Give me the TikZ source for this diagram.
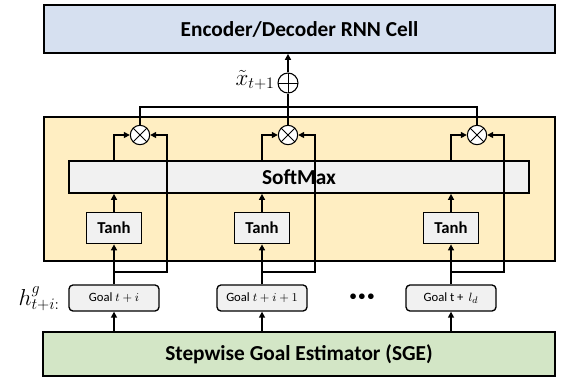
\documentclass[tikz,border=0pt]{standalone}
\usepackage{fontspec}
\setmainfont{Carlito}
\usetikzlibrary{arrows.meta,calc}

\definecolor{encblue}{HTML}{D6E0F0}
\definecolor{attnyellow}{HTML}{FFEEC2}
\definecolor{sgegreen}{HTML}{D3E6C6}
\definecolor{boxgrey}{HTML}{F1F1F1}

\tikzset{
  box/.style={draw=black, line width=1.3pt, rectangle, inner sep=0pt},
  headbox/.style={box, font=\fontsize{16}{19}\selectfont\bfseries},
  tanhbox/.style={box, fill=boxgrey, minimum width=41.25pt, minimum height=23.25pt,
                  font=\fontsize{12.5}{15}\selectfont\bfseries},
  goalbox/.style={box, line width=1pt, rounded corners=3pt, fill=boxgrey,
                  minimum width=67.5pt, minimum height=19.5pt,
                  font=\fontsize{9.5}{11}\selectfont},
  opcircle/.style={circle, draw=black, line width=0.8pt, fill=white, inner sep=0pt,
                   minimum size=14.5pt},
  otimesop/.style={opcircle, path picture={
      \draw[line width=0.7pt] (path picture bounding box.north west) -- (path picture bounding box.south east)
                              (path picture bounding box.north east) -- (path picture bounding box.south west);}},
  oplusop/.style={opcircle, path picture={
      \draw[line width=0.7pt] (path picture bounding box.north) -- (path picture bounding box.south)
                              (path picture bounding box.west) -- (path picture bounding box.east);}},
  mathlabel/.style={anchor=east, inner sep=0pt, font=\fontsize{17}{20}\selectfont},
  wire/.style={line width=1.6pt},
  arr/.style={wire, -{Triangle[length=4.5pt,width=4.5pt]}},
}

\begin{document}
\begin{tikzpicture}[x=0.75pt, y=-0.75pt]
  \useasboundingbox (0,0) rectangle (563,379);

  % main blocks
  \node[headbox, fill=encblue, minimum width=383.25pt, minimum height=36pt] (enc) at (299.5,29) {Encoder/Decoder RNN Cell};
  \node[box, fill=attnyellow, minimum width=383.25pt, minimum height=108pt] (attn) at (299.5,189) {};
  \node[headbox, fill=boxgrey, minimum width=345pt, minimum height=24pt] (sm) at (299,177) {SoftMax};
  \node[headbox, fill=sgegreen, minimum width=384pt, minimum height=33pt] (sge) at (299,354) {Stepwise Goal Estimator (SGE)};

  % per-goal columns
  \node[tanhbox] (tanh1) at (114,228) {Tanh};
  \node[tanhbox] (tanh2) at (262,228) {Tanh};
  \node[tanhbox] (tanh3) at (451,228) {Tanh};

  \node[goalbox] (goal1) at (114,298) {Goal $t+i$};
  \node[goalbox] (goal2) at (262,298) {Goal $t+i+1$};
  \node[goalbox] (goal3) at (451,298) {Goal t + \,$l_d$};

  \node[font=\fontsize{10}{12}\selectfont\bfseries] (dots) at (362,297) {•\,•\,•};
  \node[mathlabel] (hlab) at (60,299) {$h^{g}_{t+i:}$};

  % multiplication and sum nodes
  \node[otimesop] (ot1) at (140,135) {};
  \node[otimesop] (ot2) at (288,135) {};
  \node[otimesop] (ot3) at (477,135) {};
  \node[oplusop, minimum size=15pt] (op) at (288,83) {};
  \node[mathlabel] (xlab) at (275,80) {$\tilde{x}_{t+1}$};

  % branch points and side rails
  \coordinate (j1) at (114,272);  \coordinate (r1) at (167,272);
  \coordinate (j2) at (262,272);  \coordinate (r2) at (315,272);
  \coordinate (j3) at (451,272);  \coordinate (r3) at (504,272);
  \coordinate (bus) at (288,107);

  \foreach \k in {1,2,3}{
    \draw[arr] (sge.north -| goal\k) -- (goal\k.south);
    \draw[arr] (goal\k.north) -- (tanh\k.south);
    \draw[arr] (j\k) -- (r\k) |- (ot\k.east);
    \draw[arr] (tanh\k.north) -- (tanh\k.north |- sm.south);
    \draw[arr] (tanh\k.north |- sm.north) |- (ot\k.west);
  }

  % collect the weighted goals into the sum
  \draw[wire] (ot1.north) |- (bus) -| (ot3.north);
  \draw[wire] (ot2.north) -- (op.south);
  \draw[arr] (op.north) -- (op.north |- enc.south);
\end{tikzpicture}
\end{document}
